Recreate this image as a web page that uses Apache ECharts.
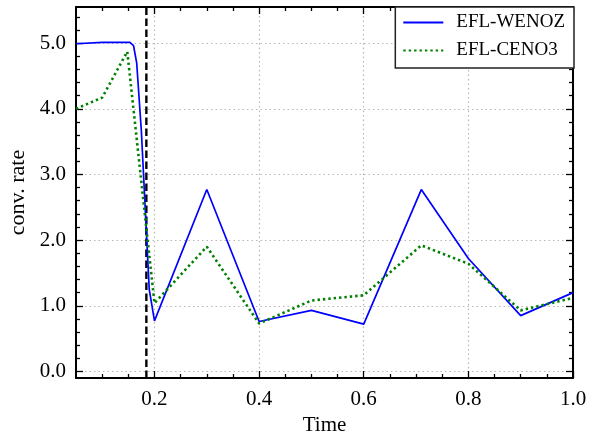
<!DOCTYPE html>
<html>
<head>
<meta charset="utf-8">
<script src="https://cdn.jsdelivr.net/npm/echarts@6/dist/echarts.min.js"></script>
<style>
html,body{margin:0;padding:0;background:#fff;}
#chart{width:606px;height:437px;}
</style>
</head>
<body>
<div id="chart"></div>
<script>
// ---- data ----
const timeWENOZ = [0.05, 0.1, 0.153, 0.16, 0.166, 0.175, 0.19, 0.2, 0.3, 0.4, 0.5, 0.6, 0.71, 0.8, 0.9, 1.0];
const rateWENOZ = [4.99, 5.01, 5.01, 4.96, 4.70, 3.65, 1.25, 0.77, 2.77, 0.76, 0.93, 0.72, 2.77, 1.72, 0.85, 1.20];
const timeCENO3 = [0.05, 0.1, 0.148, 0.2, 0.3, 0.4, 0.5, 0.6, 0.71, 0.8, 0.9, 1.0];
const rateCENO3 = [4.00, 4.17, 4.87, 1.04, 1.90, 0.73, 1.08, 1.16, 1.92, 1.64, 0.93, 1.12];
const seriesNames = ['EFL-WENOZ', 'EFL-CENO3'];
const markerTime = 0.1845;
const xMajorTicks = [0.2, 0.4, 0.6, 0.8, 1.0];
const xMinorTicks = [0.1, 0.15, 0.25, 0.3, 0.35, 0.45, 0.5, 0.55, 0.65, 0.7, 0.75, 0.85, 0.9, 0.95];
const yMajorTicks = [0, 1, 2, 3, 4, 5];
const yMinorTicks = [0.2, 0.4, 0.6, 0.8, 1.2, 1.4, 1.6, 1.8, 2.2, 2.4, 2.6, 2.8, 3.2, 3.4, 3.6, 3.8, 4.2, 4.4, 4.6, 4.8, 5.2, 5.4];
const xRange = [0.05, 1.0];
const yRange = [-0.1, 5.55];

const FONT = '"Liberation Serif", "DejaVu Serif", serif';
const zip = (a, b) => a.map((v, i) => [v, b[i]]);

function xAxisDef(position, ticks, len, withLabels, withSplit, showLine) {
  return {
    type: 'value', position: position, min: xRange[0], max: xRange[1], splitNumber: 5,
    axisLine: { show: showLine, onZero: false, lineStyle: { color: '#000', width: 2 } },
    axisTick: { show: true, inside: true, length: len, customValues: ticks, lineStyle: { color: '#000', width: 1.3 } },
    axisLabel: withLabels ? {
      show: true, customValues: ticks, margin: 11, color: '#000', fontFamily: FONT, fontSize: 21,
      formatter: v => v.toFixed(1)
    } : { show: false },
    splitLine: withSplit ? { show: true, lineStyle: { color: '#b8b8b8', width: 1.2, type: [1.5, 3] } } : { show: false }
  };
}
function yAxisDef(position, ticks, len, withLabels, withSplit, showLine) {
  return {
    type: 'value', position: position, min: yRange[0], max: yRange[1], splitNumber: 5,
    axisLine: { show: showLine, onZero: false, lineStyle: { color: '#000', width: 2 } },
    axisTick: { show: true, inside: true, length: len, customValues: ticks, lineStyle: { color: '#000', width: 1.3 } },
    axisLabel: withLabels ? {
      show: true, customValues: ticks, margin: 10, color: '#000', fontFamily: FONT, fontSize: 21,
      formatter: v => v.toFixed(1)
    } : { show: false },
    splitLine: withSplit ? { show: true, lineStyle: { color: '#b8b8b8', width: 1.2, type: [1.5, 3] } } : { show: false }
  };
}

const xAxes = [
  Object.assign(xAxisDef('bottom', xMajorTicks, 7, true, true, true), {
    name: 'Time', nameLocation: 'middle', nameGap: 36,
    nameTextStyle: { color: '#000', fontFamily: FONT, fontSize: 21 }
  }),
  xAxisDef('bottom', xMinorTicks, 4, false, false, false),
  xAxisDef('top', xMajorTicks, 7, false, false, true),
  xAxisDef('top', xMinorTicks, 4, false, false, false)
];
const yAxes = [
  Object.assign(yAxisDef('left', yMajorTicks, 7, true, true, true), {
    name: 'conv. rate', nameLocation: 'middle', nameGap: 43,
    nameTextStyle: { color: '#000', fontFamily: FONT, fontSize: 22 }
  }),
  yAxisDef('left', yMinorTicks, 4, false, false, false),
  yAxisDef('right', yMajorTicks, 7, false, false, true),
  yAxisDef('right', yMinorTicks, 4, false, false, false)
];

const chart = echarts.init(document.getElementById('chart'), null, { renderer: 'canvas' });
chart.setOption({
  animation: false,
  backgroundColor: '#fff',
  grid: { left: 76, right: 33, top: 7, bottom: 59, containLabel: false, outerBoundsMode: 'none' },
  xAxis: xAxes,
  yAxis: yAxes,
  legend: {
    data: seriesNames,
    orient: 'vertical',
    right: 32, top: 7,
    padding: [6, 9, 8, 7],
    itemWidth: 40, itemHeight: 14, itemGap: 9,
    backgroundColor: '#fff',
    borderColor: '#222', borderWidth: 1.5, borderRadius: 0,
    itemStyle: { color: 'rgba(0,0,0,0)', borderWidth: 0, opacity: 0 },
    textStyle: { color: '#000', fontFamily: FONT, fontSize: 19, padding: [0, 0, 0, 8] }
  },
  series: [
    {
      name: 'marker', type: 'line', xAxisIndex: 0, yAxisIndex: 0,
      data: [[markerTime, yRange[0]], [markerTime, yRange[1]]],
      symbol: 'none', showSymbol: false, silent: true, z: 1,
      lineStyle: { color: '#000', width: 2.4, type: [7.5, 3.5] }
    },
    {
      name: seriesNames[0], type: 'line', xAxisIndex: 0, yAxisIndex: 0,
      data: zip(timeWENOZ, rateWENOZ),
      symbol: 'none', showSymbol: false,
      lineStyle: { color: '#0000ff', width: 1.7 },
      itemStyle: { color: '#0000ff' }
    },
    {
      name: seriesNames[1], type: 'line', xAxisIndex: 0, yAxisIndex: 0,
      data: zip(timeCENO3, rateCENO3),
      symbol: 'none', showSymbol: false,
      lineStyle: { color: '#008000', width: 2.6, type: [2.4, 3] },
      itemStyle: { color: '#008000' }
    }
  ]
});
</script>
</body>
</html>
